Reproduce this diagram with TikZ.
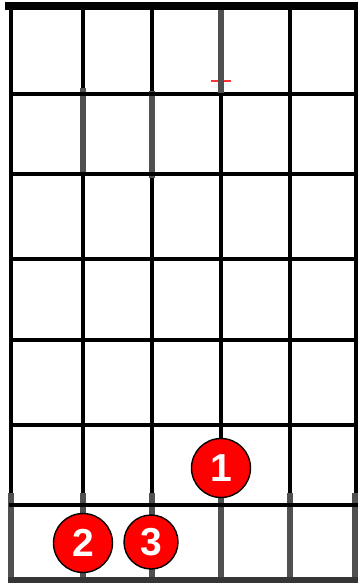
\documentclass[tikz,border=0pt]{standalone}
\usepackage{fontspec}
\setmainfont{Liberation Sans}
\definecolor{strgray}{HTML}{505050}
\definecolor{botgray}{HTML}{353535}
\tikzset{
  fretline/.style={line width=4.6pt, black},
  nutline/.style={line width=8pt, black},
  grayline/.style={line width=6pt, strgray},
  botline/.style={line width=5.5pt, botgray},
  fingerdot/.style={circle, fill=red, draw=black, line width=1.4pt, minimum size=59pt, inner sep=0pt, text=white, font=\bfseries\fontsize{39}{39}\selectfont},
}
\begin{document}
\begin{tikzpicture}[x=1pt,y=-1pt]
\useasboundingbox (0,0) rectangle (358,583);
\fill[white] (0,0) rectangle (358,583);
% strings (black part)
\foreach \x in {11,83,152,221,290,356}
  \draw[fretline] (\x,8) -- (\x,506);
% frets
\foreach \y in {94,174,259,340,425,505}
  \draw[fretline] (9,\y) -- (358,\y);
% nut
\draw[nutline] (5,6) -- (358,6);
% gray overlays
\draw[grayline] (83,88) -- (83,176);
\draw[grayline] (152,91) -- (152,178);
\draw[red!80, line width=1.2pt] (211,81) -- (231,81);
\draw[fretline] (9,94) -- (358,94);
\draw[fretline] (9,174) -- (358,174);
\draw[grayline] (221,10) -- (221,93);
% lower section
\foreach \x in {11,83,152,221,290,355}
  \draw[grayline] (\x,493) -- (\x,580);
\draw[fretline] (9,505) -- (358,505);
\draw[botline] (8,580) -- (358,580);
% finger dots
\node[fingerdot] (f1) at (221,468) {1};
\node[fingerdot] (f2) at (83,543) {2};
\node[fingerdot, minimum size=54pt] (f3) at (151,542) {3};
\end{tikzpicture}
\end{document}
